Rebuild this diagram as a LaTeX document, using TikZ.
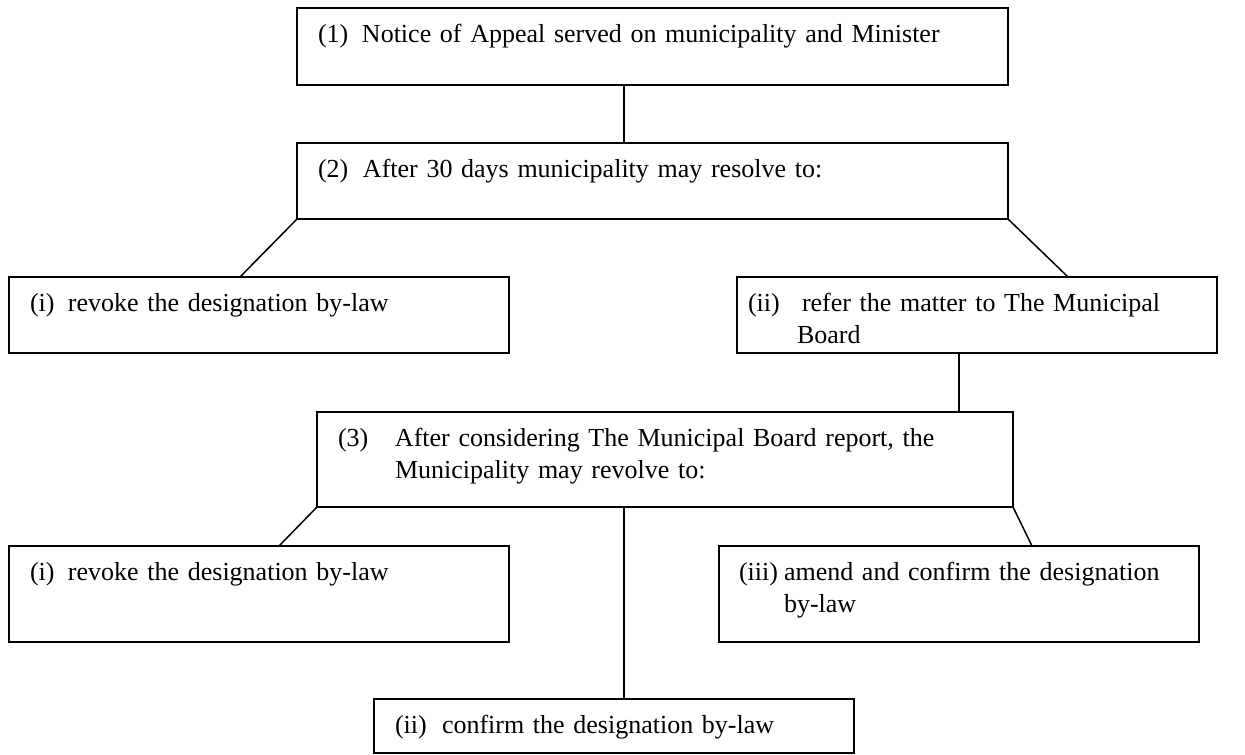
\documentclass[tikz,border=0pt]{standalone}
\usepackage{fontspec}
\setmainfont{Liberation Serif}
\newcommand\boxfont{\fontsize{26}{31.5}\selectfont}
\newcommand\hlabel[2]{\makebox[#1][l]{#2}}
\tikzset{
  box/.style={draw, line width=1.5pt, anchor=north west, outer sep=0pt,
    inner ysep=0pt, align=left, text height=34.5pt, font=\boxfont},
  link/.style={line width=1.5pt}
}
\begin{document}
\begin{tikzpicture}[x=1pt,y=-1pt]
\useasboundingbox (0,0) rectangle (1245,755);

\node[box, inner xsep=21pt, text width=669pt, text depth=42.5pt] (b1) at (297,8)
  {\hlabel{44pt}{(1)}Notice of Appeal served on municipality and Minister};
\node[box, inner xsep=21pt, text width=669pt, text depth=41.5pt] (b2) at (297,143)
  {\hlabel{45pt}{(2)}After 30 days municipality may resolve to:};
\node[box, inner xsep=21pt, text width=458pt, text depth=41.5pt] (bi) at (9,277)
  {\hlabel{38pt}{(i)}revoke the designation by-law};
\node[box, inner xsep=11pt, text width=458pt, text depth=41.5pt] (bii) at (737,277)
  {\hlabel{54pt}{(ii)}refer the matter to The Municipal\\\hspace*{49pt}Board};
\node[box, inner xsep=21pt, text width=654pt, text depth=60.5pt] (b3) at (317,412)
  {\hlabel{57pt}{(3)}After considering The Municipal Board report, the\\\hspace*{57pt}Municipality may revolve to:};
\node[box, inner xsep=21pt, text width=458pt, text depth=61.5pt] (bib) at (9,546)
  {\hlabel{38pt}{(i)}revoke the designation by-law};
\node[box, inner xsep=20pt, text width=440pt, text depth=61.5pt] (biii) at (719,546)
  {\hlabel{45pt}{(iii)}amend and confirm the designation\\\hspace*{45pt}by-law};
\node[box, inner xsep=21pt, text width=438pt, text depth=19.5pt] (biib) at (374,699)
  {\hlabel{47pt}{(ii)}confirm the designation by-law};

\draw[link] ([xshift=327pt]b1.south west) coordinate (c1) -- (c1 |- b2.north);
\draw[link] (b2.south west) -- ([xshift=231pt]bi.north west);
\draw[link] (b2.south east) -- ([xshift=331pt]bii.north west);
\draw[link] ([xshift=222pt]bii.south west) coordinate (c2) -- (c2 |- b3.north);
\draw[link] (b3.south west) -- ([xshift=270pt]bib.north west);
\draw[link] ([xshift=307pt]b3.south west) coordinate (c3) -- (c3 |- biib.north);
\draw[link] (b3.south east) -- ([xshift=313pt]biii.north west);
\end{tikzpicture}
\end{document}
